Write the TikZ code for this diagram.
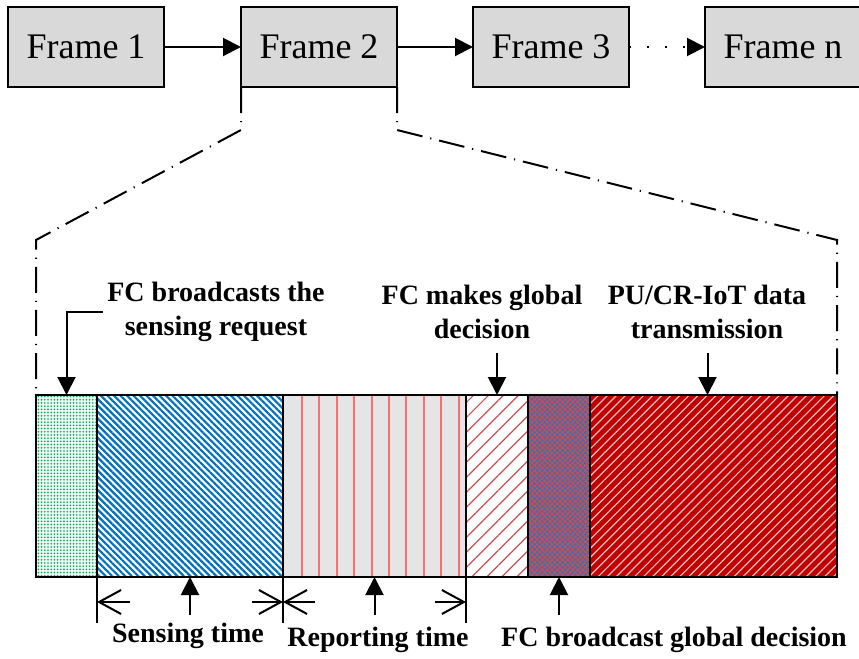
\documentclass[tikz,border=0pt]{standalone}
\usepackage{fontspec}
\setmainfont{Liberation Serif}
\usetikzlibrary{arrows.meta,positioning,patterns.meta}
\definecolor{segblue}{RGB}{0,112,192}
\definecolor{seggreen}{RGB}{0,170,80}
\definecolor{segred}{RGB}{192,0,0}
\definecolor{segsteel}{RGB}{70,105,175}
\definecolor{hatchred}{RGB}{200,80,80}
\definecolor{linered}{RGB}{255,110,110}

\begin{document}
\begin{tikzpicture}[
  x=0.5pt,y=-0.5pt,
  frame/.style={draw,line width=1.2pt,fill=black!15,minimum width=78pt,minimum height=40pt,inner sep=0pt,outer sep=0pt,font=\fontsize{18}{21}\selectfont},
  seg/.style={draw,line width=1pt,minimum height=91pt,inner sep=0pt,outer sep=0pt},
  lbl/.style={align=center,inner sep=2pt,font=\bfseries\fontsize{14}{17}\selectfont},
  arr/.style={-{Triangle[length=9pt,width=9pt]},line width=1pt},
  dim/.style={-{Straight Barb[length=11pt,width=12pt]},line width=1pt},
  zoomline/.style={line width=1pt,dash pattern=on 13pt off 4pt on 0.6pt off 4pt}
]
\useasboundingbox (0,0) rectangle (859,659);
% frames
\node[frame] (f1) at (86,47) {Frame 1};
\node[frame,right=38.5pt of f1] (f2) {Frame 2};
\node[frame,right=38pt of f2] (f3) {Frame 3};
\node[frame,right=38pt of f3] (fn) {Frame n};
\draw[arr] (f1)--(f2); \draw[arr] (f2)--(f3);
\draw[arr,dash pattern=on 1pt off 8pt] (f3)--(fn);
% slots of one frame
\node[seg,anchor=north west,minimum width=30.5pt,preaction={fill=seggreen!8},pattern={Dots[distance=1.6pt,radius=0.45pt]},pattern color=seggreen] (req) at (36,395) {};
\node[seg,right=0pt of req,minimum width=93pt,preaction={fill=white},pattern={Lines[angle=-45,distance=2.3pt,line width=1.1pt]},pattern color=segblue] (sens) {};
\node[seg,right=0pt of sens,minimum width=91.5pt,fill=black!10] (rep) {};
\foreach \k in {0,...,9}
  \draw[linered,line width=1pt] ([xshift=9.5pt+\k*8.7pt,yshift=-0.5pt]rep.north west) -- ([xshift=9.5pt+\k*8.7pt,yshift=0.5pt]rep.south west);
\node[seg,right=0pt of rep,minimum width=31pt,preaction={fill=white},pattern={Lines[angle=45,distance=5.3pt,line width=0.6pt]},pattern color=hatchred] (dec) {};
\node[seg,right=0pt of dec,minimum width=31pt,preaction={fill=segsteel},pattern={Hatch[angle=45,distance=1.8pt,line width=0.5pt]},pattern color=hatchred] (bc) {};
\node[seg,right=0pt of bc,minimum width=123.5pt,preaction={fill=segred},pattern={Lines[angle=45,distance=3.2pt,line width=0.6pt]},pattern color=white!75!red] (data) {};
% zoom lines
\draw[zoomline] (f2.south west) -- ++(0,43) -- (req.north west |- 0,240) -- (req.north west);
\draw[zoomline] (f2.south east) -- ++(0,43) -- (data.north east |- 0,240) -- (data.north east);
% labels above
\node[lbl] (reqtxt) at (216,312) {FC broadcasts the\\sensing request};
\node[lbl] (dectxt) at (482,312) {FC makes global\\decision};
\node[lbl] (datatxt) at (707,312) {PU/CR-IoT data\\transmission};
\draw[arr] (reqtxt.west) -| (req.north);
\draw[arr] ([yshift=21pt]dec.north) -- (dec.north);
\draw[arr] ([xshift=-3pt,yshift=21pt]data.north) -- ([xshift=-3pt]data.north);
% durations below
\foreach \s in {sens.south west,sens.south east,rep.south east}
  \draw[line width=1pt] (\s) -- ++(0,46);
\draw[dim] ([shift={(33,25)}]sens.south west) -- ++(-33,0);
\draw[dim] ([shift={(-31,25)}]sens.south east) -- ++(31,0);
\draw[dim] ([shift={(32,25)}]rep.south west) -- ++(-32,0);
\draw[dim] ([shift={(-31,25)}]rep.south east) -- ++(31,0);
\draw[arr] ([yshift=-19pt]sens.south) -- (sens.south);
\draw[arr] ([yshift=-19pt]rep.south) -- (rep.south);
\draw[arr] ([yshift=-19pt]bc.south) -- (bc.south);
\node[lbl,anchor=base] (senstxt) at (188,642) {Sensing time};
\node[lbl,anchor=base] (reptxt) at (378,646) {Reporting time};
\node[lbl,anchor=base] (bctxt) at (674,646) {FC broadcast global decision};
\end{tikzpicture}
\end{document}
